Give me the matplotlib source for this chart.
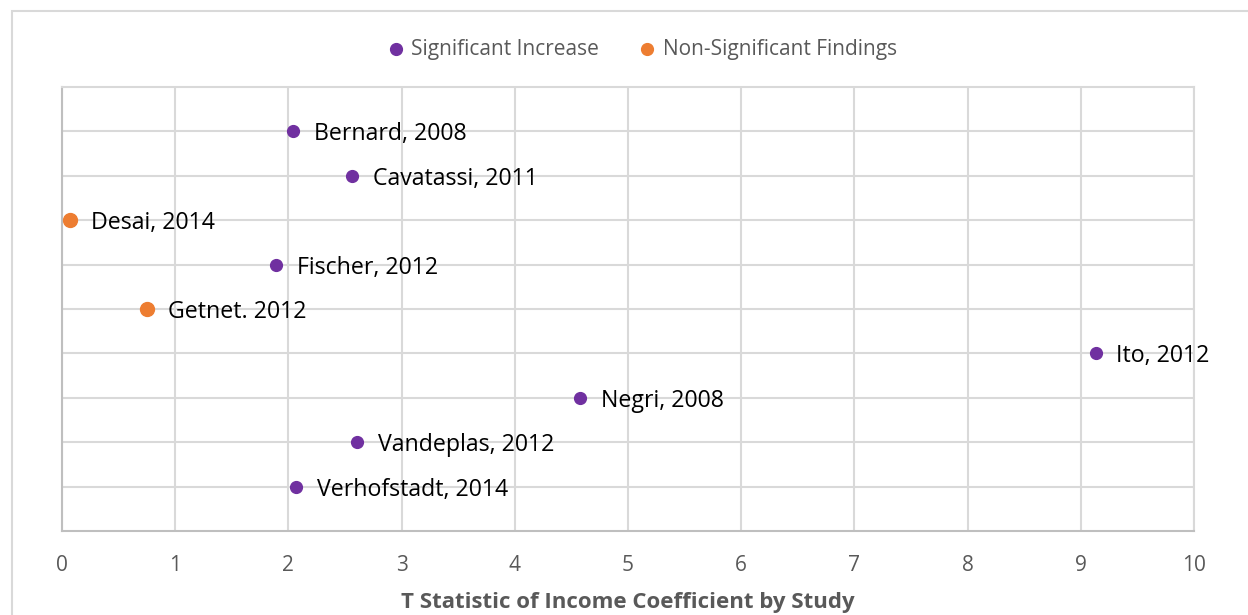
import matplotlib
matplotlib.use("Agg")
import matplotlib.pyplot as plt
from matplotlib.patches import Rectangle

plt.rcParams['font.family'] = ['Open Sans', 'DejaVu Sans']

studies = ["Bernard, 2008", "Cavatassi, 2011", "Desai, 2014", "Fischer, 2012",
           "Getnet. 2012", "Ito, 2012", "Negri, 2008", "Vandeplas, 2012",
           "Verhofstadt, 2014"]
t_stats = [2.04, 2.56, 0.07, 1.89, 0.75, 9.13, 4.58, 2.61, 2.07]
y_pos = [9, 8, 7, 6, 5, 4, 3, 2, 1]
significant = [True, True, False, True, False, True, True, True, True]
x_ticks = list(range(0, 11))

purple = "#7030A0"
orange = "#ED7D31"

fig = plt.figure(figsize=(12.48, 6.15), dpi=100)
fig.patches.append(Rectangle((12/1248, -0.1), 1.2, 1 - 11/615 + 0.1,
                             transform=fig.transFigure, fill=False,
                             edgecolor="#D9D9D9", linewidth=1.5))
ax = fig.add_axes([62/1248, 1 - 531/615, (1194 - 62)/1248, (531 - 87)/615])

sx = [x for x, s in zip(t_stats, significant) if s]
sy = [y for y, s in zip(y_pos, significant) if s]
nx = [x for x, s in zip(t_stats, significant) if not s]
ny = [y for y, s in zip(y_pos, significant) if not s]
ax.scatter(sx, sy, s=72, color=purple, zorder=3, label="Significant Increase", clip_on=False)
ax.scatter(nx, ny, s=100, color=orange, zorder=3, label="Non-Significant Findings", clip_on=False)

for x, y, name in zip(t_stats, y_pos, studies):
    ax.annotate(name, (x, y), xytext=(15, 0), textcoords="offset points",
                va="center_baseline", ha="left", fontsize=16.7, color="#000000", zorder=4)

ax.set_xlim(0, 10)
ax.set_ylim(0, 10)
ax.set_xticks(x_ticks)
ax.set_yticks(range(1, 10))
ax.set_yticklabels([])
ax.grid(True, color="#D9D9D9", linewidth=1.5)
ax.set_axisbelow(True)
ax.tick_params(axis="both", length=0, labelsize=15, labelcolor="#595959", pad=17)
for side in ["top", "right"]:
    ax.spines[side].set_color("#D9D9D9")
    ax.spines[side].set_linewidth(1.5)
for side in ["left", "bottom"]:
    ax.spines[side].set_color("#BFBFBF")
    ax.spines[side].set_linewidth(1.5)

ax.set_xlabel("T Statistic of Income Coefficient by Study", fontsize=16,
              fontweight="bold", color="#595959", labelpad=12)

leg = ax.legend(loc="center", bbox_to_anchor=((641 - 62) / 1132, (531 - 49) / 444, 0, 0),
                ncol=2, frameon=False, fontsize=15, handletextpad=0.25,
                columnspacing=1.8, markerscale=1.0, handlelength=1.0)
leg.legend_handles[1].set_sizes([72])
for t in leg.get_texts():
    t.set_color("#595959")

fig.savefig("out.png", dpi=100)
